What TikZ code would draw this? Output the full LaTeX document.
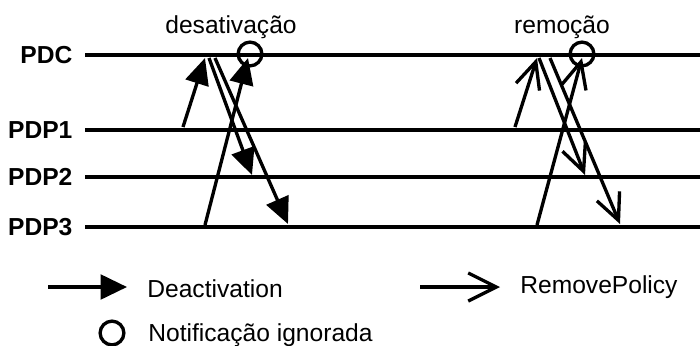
\documentclass[tikz,border=0pt]{standalone}
\usepackage{fontspec}
\setmainfont{Liberation Sans}
\usetikzlibrary{arrows.meta}

\begin{document}
\begin{tikzpicture}[x=0.02cm,y=-0.02cm,font=\fontsize{14}{16}\selectfont,
  actor/.style={anchor=east,inner xsep=7pt,inner ysep=0pt,font=\fontsize{14}{16}\selectfont\bfseries},
  timeline/.style={line width=2.4pt},
  msg/.style={line width=1.9pt},
  deact/.style={msg,-{Triangle[length=15pt,width=13.5pt]}},
  remove/.style={msg,-{Straight Barb[length=15pt,width=14pt]}},
  ignored/.style={draw,circle,line width=1.9pt,minimum size=13.5pt,inner sep=0pt}]
\useasboundingbox (0,0) rectangle (700,345);
% actors and their time lines
\node[actor] (pdc) at (85,55) {PDC};
\node[actor] (pdp1) at (85,130) {PDP1};
\node[actor] (pdp2) at (85,177) {PDP2};
\node[actor] (pdp3) at (85,227) {PDP3};
\coordinate (pdc end) at (700,55);
\coordinate (pdp1 end) at (700,130);
\coordinate (pdp2 end) at (700,177);
\coordinate (pdp3 end) at (700,227);
\draw[timeline] (pdc.east) -- (pdc end);
\draw[timeline] (pdp1.east) -- (pdp1 end);
\draw[timeline] (pdp2.east) -- (pdp2 end);
\draw[timeline] (pdp3.east) -- (pdp3 end);
% titles
\node[anchor=base] (des) at (231,33) {desativação};
\node[anchor=base] (rem) at (562,33) {remoção};
% deactivation exchange
\coordinate (d1a) at (183,127);
\coordinate (d1b) at (205,58);
\coordinate (d2a) at (209,58);
\coordinate (d2b) at (252,175);
\coordinate (d3a) at (205,225);
\coordinate (d3b) at (248,58);
\coordinate (d4a) at (215,58);
\coordinate (d4b) at (288,224);
\draw[deact] (d1a) -- (d1b);
\draw[deact] (d2a) -- (d2b);
\draw[deact] (d3a) -- (d3b);
\draw[deact] (d4a) -- (d4b);
\node[ignored] (ign1) at (250,54) {};
% removal exchange
\coordinate (r1a) at (515,127);
\coordinate (r1b) at (537,58);
\coordinate (r2a) at (539,58);
\coordinate (r2b) at (585,175);
\coordinate (r3a) at (537,225);
\coordinate (r3b) at (582,58);
\coordinate (r4a) at (550,58);
\coordinate (r4b) at (620,224);
\draw[remove] (r1a) -- (r1b);
\draw[remove] (r2a) -- (r2b);
\draw[remove] (r3a) -- (r3b);
\draw[remove] (r4a) -- (r4b);
\node[ignored] (ign2) at (582,54) {};
% legend
\coordinate (k1a) at (48,287);
\coordinate (k1b) at (127,287);
\draw[msg,-{Triangle[length=15pt,width=14pt]}] (k1a) -- (k1b);
\node[anchor=base west,inner sep=0pt] (k1) at (147,297) {Deactivation};
\coordinate (k2a) at (420,287);
\coordinate (k2b) at (500,287);
\draw[msg,-{Straight Barb[length=16pt,width=16pt]}] (k2a) -- (k2b);
\node[anchor=base west,inner sep=0pt] (k2) at (520,293) {RemovePolicy};
\node[ignored] (k3o) at (112,333) {};
\node[anchor=base west,inner sep=0pt] (k3) at (148,341) {Notificação ignorada};
\end{tikzpicture}
\end{document}
